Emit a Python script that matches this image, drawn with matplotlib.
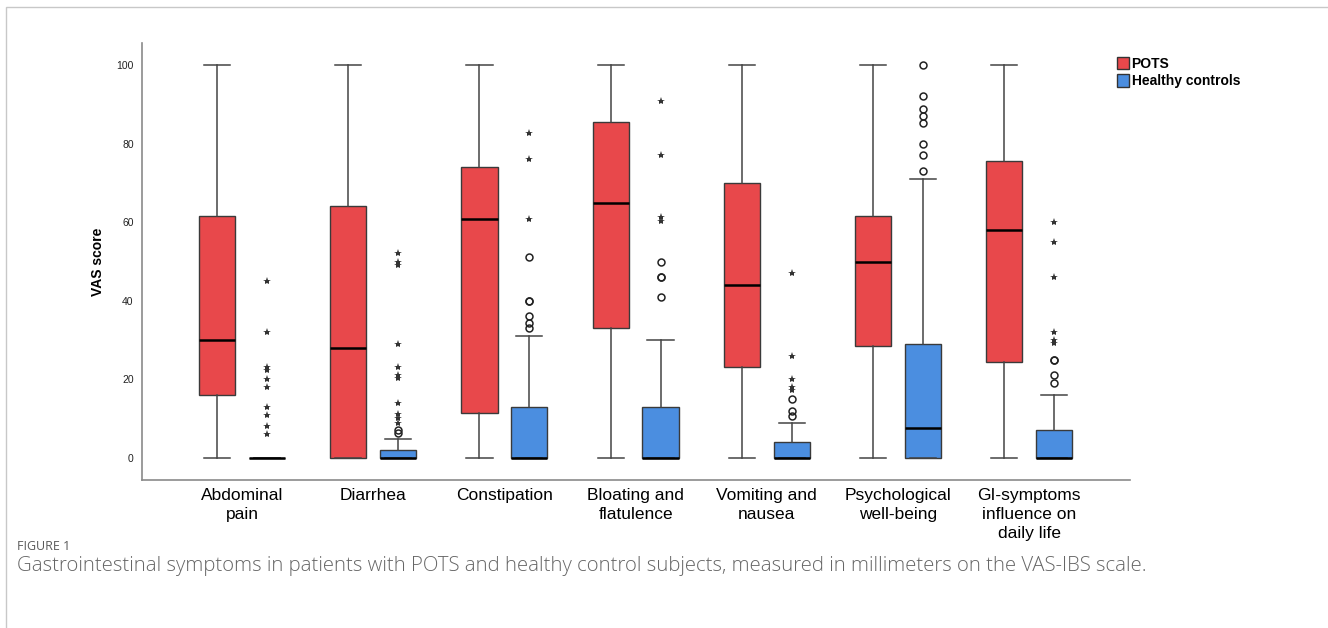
import matplotlib
matplotlib.use("Agg")
import matplotlib.pyplot as plt
from matplotlib.patches import Patch, Rectangle

categories = ["Abdominal\npain", "Diarrhea", "Constipation", "Bloating and\nflatulence",
              "Vomiting and\nnausea", "Psychological\nwell-being", "GI-symptoms\ninfluence on\ndaily life"]

# POTS: whisker low, Q1, median, Q3, whisker high
pots_wlo = [0, 0, 0, 0, 0, 0, 0]
pots_q1 = [16.1, 0, 11.5, 33.0, 23.1, 28.6, 24.5]
pots_med = [30.0, 28.0, 61.0, 65.0, 44.1, 50.0, 58.2]
pots_q3 = [61.6, 64.2, 74.0, 85.5, 70.1, 61.6, 75.6]
pots_whi = [100, 100, 100, 100, 100, 100, 100]

# Healthy controls
hc_wlo = [0, 0, 0, 0, 0, 0, 0]
hc_q1 = [0, 0, 0, 0, 0, 0, 0]
hc_med = [0, 0, 0, 0, 0, 7.6, 0]
hc_q3 = [0, 2.0, 13.1, 13.1, 4.0, 29.0, 7.1]
hc_whi = [0, 4.9, 31.1, 30.0, 9.0, 71.1, 16.0]

# Healthy-control outliers: circles (mild) and stars (extreme)
hc_circles = [
    [],
    [7.1, 6.3],
    [51.1, 40.1, 40.1, 36.2, 34.3, 33.2],
    [50.0, 46.0, 46.0, 40.9],
    [15.0, 12.1, 10.8],
    [100.0, 92.2, 89.0, 87.2, 85.2, 80.0, 77.1, 73.2],
    [25.0, 25.0, 21.1, 19.0],
]
hc_stars = [
    [45.2, 32.0, 23.2, 22.4, 20.2, 18.1, 13.1, 11.0, 8.2, 6.1],
    [52.1, 50.0, 49.2, 29.0, 23.1, 21.1, 20.3, 13.9, 11.2, 10.1, 9.0],
    [82.9, 76.1, 61.0],
    [91.0, 77.2, 61.3, 60.4],
    [47.0, 26.0, 20.1, 18.2, 17.3],
    [],
    [60.0, 55.1, 46.0, 32.1, 30.0, 29.2],
]

series_names = ["POTS", "Healthy controls"]
RED = "#E8484B"
BLUE = "#4B8EE0"

plt.rcParams["font.family"] = ["Liberation Sans", "DejaVu Sans"]

fig = plt.figure(figsize=(13.28, 6.28), dpi=100)
# outer frame
fig.patches.append(Rectangle((6 / 1328, -0.1), 1.2, 1 - 7 / 628 + 0.1, transform=fig.transFigure,
                             fill=False, edgecolor="#c8c8c8", linewidth=1.0, zorder=0))

ax = fig.add_axes([142 / 1328, 1 - 480 / 628, (1130 - 142) / 1328, (480 - 43) / 628])

off = 0.19
width = 0.275

def stats(wlo, q1, med, q3, whi):
    return [dict(whislo=a, q1=b, med=c, q3=d, whishi=e, fliers=[])
            for a, b, c, d, e in zip(wlo, q1, med, q3, whi)]

pos_p = [i - off for i in range(len(categories))]
pos_h = [i + off for i in range(len(categories))]

common = dict(widths=width, patch_artist=True, showfliers=False,
              whiskerprops=dict(color="#444444", linewidth=1.1),
              capprops=dict(color="#444444", linewidth=1.1),
              medianprops=dict(color="black", linewidth=1.8))

bp1 = ax.bxp(stats(pots_wlo, pots_q1, pots_med, pots_q3, pots_whi), positions=pos_p,
             boxprops=dict(facecolor=RED, edgecolor="#3a3a3a", linewidth=1.0), **common)
bp2 = ax.bxp(stats(hc_wlo, hc_q1, hc_med, hc_q3, hc_whi), positions=pos_h,
             boxprops=dict(facecolor=BLUE, edgecolor="#3a3a3a", linewidth=1.0), **common)
for cap in bp1["caps"] + bp2["caps"]:
    x = cap.get_xdata()
    c = (x[0] + x[1]) / 2
    cap.set_xdata([c - 0.1, c + 0.1])

for i in range(len(categories)):
    if hc_circles[i]:
        ax.plot([pos_h[i]] * len(hc_circles[i]), hc_circles[i], linestyle="none", marker="o",
                markersize=5, markerfacecolor="none", markeredgecolor="#222222", markeredgewidth=1.1)
    if hc_stars[i]:
        ax.plot([pos_h[i]] * len(hc_stars[i]), hc_stars[i], linestyle="none", marker="*",
                markersize=6, color="#333333", markeredgewidth=0)

ax.set_xlim(-0.762, 6.768)
ax.set_ylim(-5.6, 105.7)
ax.set_yticks([0, 20, 40, 60, 80, 100])
ax.set_yticklabels(["0", "20", "40", "60", "80", "100"], fontsize=7.5, color="#222222")
ax.set_xticks(range(len(categories)))
ax.set_xticklabels(categories, fontsize=12.5, color="black", linespacing=1.3)
ax.tick_params(axis="both", length=0)
ax.tick_params(axis="y", pad=6)
ax.tick_params(axis="x", pad=6)
ax.set_ylabel("VAS score", fontsize=10, fontweight="bold", labelpad=8)
for s in ["top", "right"]:
    ax.spines[s].set_visible(False)
for s in ["left", "bottom"]:
    ax.spines[s].set_color("#8a8a8a")
    ax.spines[s].set_linewidth(1.2)

handles = [Patch(facecolor=RED, edgecolor="#333333", label=series_names[0]),
           Patch(facecolor=BLUE, edgecolor="#333333", label=series_names[1])]
fig.legend(handles=handles, loc="upper left", bbox_to_anchor=(1110 / 1328, 1 - 50 / 628),
           frameon=False, handlelength=0.9, handleheight=1.0, handletextpad=0.15,
           labelspacing=0.25, borderpad=0, prop=dict(weight="bold", size=10))

fig.text(17 / 1328, 1 - 547 / 628, "FIGURE 1", fontsize=9, color="#5a5a5a",
         family=["Open Sans", "DejaVu Sans"], va="center")
fig.text(17 / 1328, 1 - 566 / 628,
         "Gastrointestinal symptoms in patients with POTS and healthy control subjects, measured in millimeters on the VAS-IBS scale.",
         fontsize=14.7, color="#666666", fontweight="light", family=["Open Sans", "DejaVu Sans"], va="center")

fig.savefig("out.png", dpi=100)
